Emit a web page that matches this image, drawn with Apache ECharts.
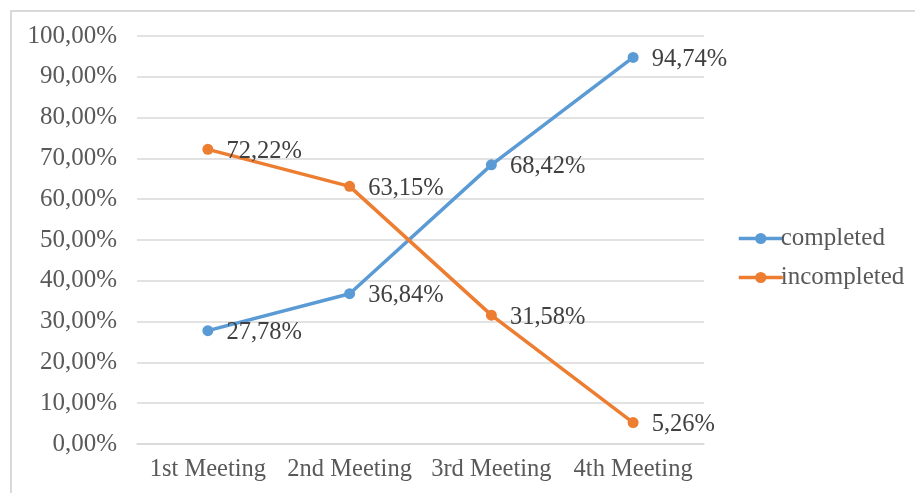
<!DOCTYPE html>
<html>
<head>
<meta charset="utf-8">
<script src="https://cdn.jsdelivr.net/npm/echarts@6/dist/echarts.min.js"></script>
<style>
html,body{margin:0;padding:0;background:#fff;}
#chart{width:915px;height:493px;}
</style>
</head>
<body>
<div id="chart"></div>
<script>
var categories = ['1st Meeting', '2nd Meeting', '3rd Meeting', '4th Meeting'];
var completed = [27.78, 36.84, 68.42, 94.74];
var incompleted = [72.22, 63.15, 31.58, 5.26];
var seriesNames = ['completed', 'incompleted'];

function pct(v) { return v.toFixed(2).replace('.', ',') + '%'; }

var FONT = '"Liberation Serif", "Times New Roman", serif';
var chart = echarts.init(document.getElementById('chart'), null, {renderer: 'canvas'});

function makeSeries(name, data, color) {
  return {
    name: name,
    type: 'line',
    data: data,
    symbol: 'circle',
    symbolSize: 11,
    lineStyle: {color: color, width: 3.5},
    itemStyle: {color: color},
    label: {
      show: true,
      position: 'right',
      distance: 13,
      offset: [0, 2],
      formatter: function (p) { return pct(p.value); },
      color: '#404040',
      fontFamily: FONT,
      fontSize: 24.5
    },
    emphasis: {disabled: true},
    animation: false
  };
}

chart.setOption({
  animation: false,
  backgroundColor: '#ffffff',
  graphic: [{
    type: 'rect',
    shape: {x: 11, y: 11, width: 2000, height: 2000},
    style: {fill: 'none', stroke: '#d9d9d9', lineWidth: 2},
    silent: true
  }],
  grid: {left: 137, right: 211, top: 36, bottom: 49, containLabel: false},
  legend: {
    orient: 'vertical',
    left: 732,
    top: 221,
    itemWidth: 44,
    itemHeight: 14,
    itemGap: 14,
    data: seriesNames,
    lineStyle: {width: 3.5},
    textStyle: {color: '#595959', fontFamily: FONT, fontSize: 25, padding: [0, 0, 0, -7]}
  },
  xAxis: {
    type: 'category',
    data: categories,
    boundaryGap: true,
    axisLine: {show: true, lineStyle: {color: '#d9d9d9', width: 1.5}},
    axisTick: {show: false},
    axisLabel: {color: '#595959', fontFamily: FONT, fontSize: 24.5, margin: 13, interval: 0}
  },
  yAxis: {
    type: 'value',
    min: 0,
    max: 100,
    interval: 10,
    axisLine: {show: false},
    axisTick: {show: false},
    splitLine: {lineStyle: {color: '#d9d9d9', width: 1.5}},
    axisLabel: {
      color: '#595959', fontFamily: FONT, fontSize: 25, margin: 20,
      formatter: function (v) { return pct(v); }
    }
  },
  series: [
    makeSeries(seriesNames[0], completed, '#5B9BD5'),
    makeSeries(seriesNames[1], incompleted, '#ED7D31')
  ]
});
</script>
</body>
</html>
